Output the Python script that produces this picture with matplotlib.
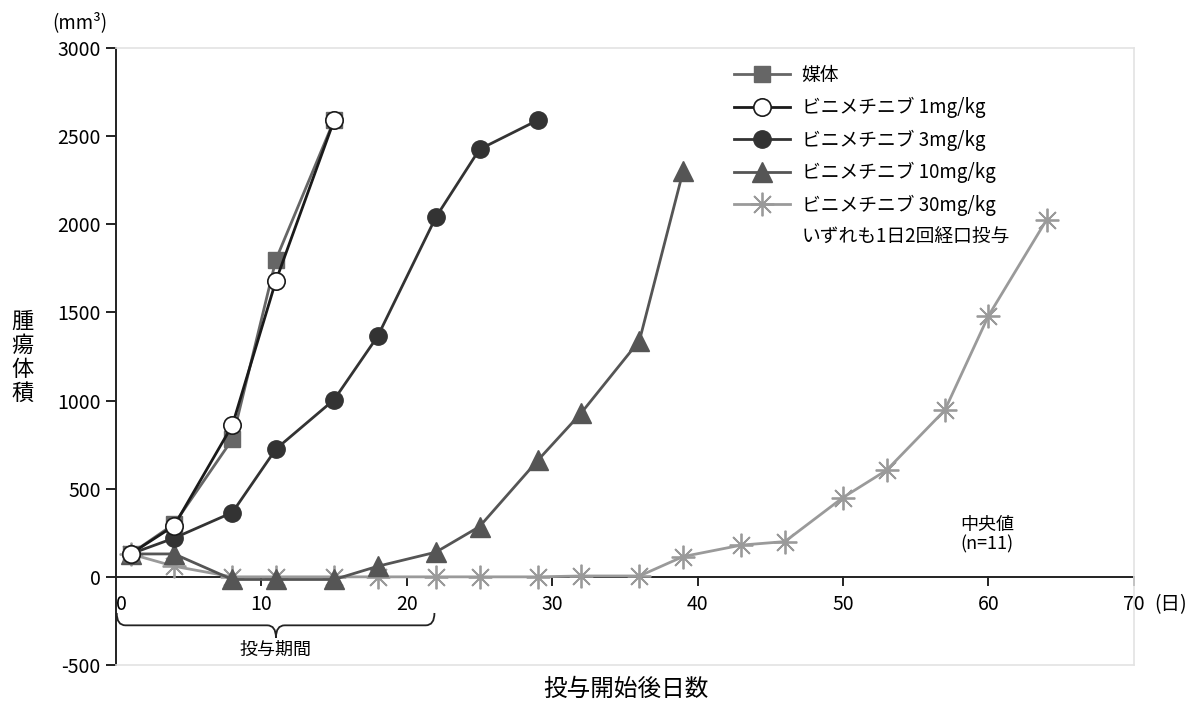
import matplotlib.pyplot as plt
from matplotlib.path import Path
from matplotlib.patches import PathPatch

plt.rcParams['font.family'] = ['Noto Sans CJK JP', 'DejaVu Sans']
plt.rcParams['axes.unicode_minus'] = False

# 投与開始後日数
days = [1, 4, 8, 11, 15, 18, 22, 25, 29, 32, 36, 39, 43, 46, 50, 53, 57, 60, 64]

# 腫瘍体積 (mm3), 中央値
vehicle = [130, 300, 780, 1800, 2590]
bini_1 = [130, 290, 860, 1680, 2590]
bini_3 = [130, 220, 365, 725, 1005, 1365, 2040, 2425, 2590]
bini_10 = [130, 130, -15, -15, -15, 60, 140, 285, 660, 930, 1340, 2300]
bini_30 = [130, 60, 0, 0, 0, 0, 0, 0, 0, 5, 5, 115, 180, 200, 450, 605, 945, 1480, 2025]

labels = ['媒体', 'ビニメチニブ 1mg/kg', 'ビニメチニブ 3mg/kg',
          'ビニメチニブ 10mg/kg', 'ビニメチニブ 30mg/kg']
note = 'いずれも1日2回経口投与'

fig = plt.figure(figsize=(11.96, 7.02), dpi=100)
ax = fig.add_axes([0.097, 0.0527, 0.851, 0.879])

h30, = ax.plot(days[:len(bini_30)], bini_30, color='#9a9a9a', lw=2, marker=(8, 2, 0),
               ms=17, mew=1.3, zorder=2)
h10, = ax.plot(days[:len(bini_10)], bini_10, color='#555555', lw=2, marker='^',
               ms=15, zorder=3)
h3, = ax.plot(days[:len(bini_3)], bini_3, color='#333333', lw=2, marker='o',
              ms=12.5, zorder=4)
hv, = ax.plot(days[:len(vehicle)], vehicle, color='#666666', lw=2, marker='s',
              ms=12, zorder=5)
h1, = ax.plot(days[:len(bini_1)], bini_1, color='#1a1a1a', lw=2, marker='o',
              ms=12.5, mfc='white', mec='#1a1a1a', mew=1.2, zorder=6)

ax.set_xlim(0, 70)
ax.set_ylim(-500, 3000)
ax.set_yticks([-500, 0, 500, 1000, 1500, 2000, 2500, 3000])
ax.set_xticks([])

for s in ['top', 'right', 'bottom']:
    ax.spines[s].set_color('#e3e3e3')
    ax.spines[s].set_linewidth(1.2)
ax.spines['left'].set_linewidth(1.4)
ax.spines['left'].set_color('#222222')
ax.tick_params(axis='y', labelsize=14, length=7, width=1.4, color='#222222', pad=4)

# x軸 (y=0)
ax.axhline(0, color='#222222', lw=1.4, zorder=1)
for t in [10, 20, 30, 40, 50, 60, 70]:
    ax.plot([t, t], [0, -45], color='#222222', lw=1.4, clip_on=False, zorder=1)
for t in [0, 10, 20, 30, 40, 50, 60, 70]:
    ax.text(t + (0.4 if t == 0 else 0), -100, str(t), ha='center', va='top', fontsize=14)
ax.text(72.5, -100, '(日)', ha='center', va='top', fontsize=14)

# 投与期間 brace
bx0, bx1, bxm = 0.05, 21.9, 11.0
yt, yb, ytip = -205, -275, -345
verts = [(bx0, yt), (bx0, yb), (bx0 + 0.6, yb),
         (bxm - 0.6, yb), (bxm, yb), (bxm, ytip),
         (bxm, yb), (bxm + 0.6, yb),
         (bx1 - 0.6, yb), (bx1, yb), (bx1, yt)]
codes = [Path.MOVETO, Path.CURVE3, Path.CURVE3,
         Path.LINETO, Path.CURVE3, Path.CURVE3,
         Path.CURVE3, Path.CURVE3,
         Path.LINETO, Path.CURVE3, Path.CURVE3]
ax.add_patch(PathPatch(Path(verts, codes), fill=False, lw=1.3, color='#222222',
                       clip_on=False))
ax.text(bxm, -365, '投与期間', ha='center', va='top', fontsize=13)

ax.text(59.9, 240, '中央値\n(n=11)', ha='center', va='center', fontsize=13,
        linespacing=1.05)

blank, = ax.plot([], [], color='none')
leg = ax.legend([hv, h1, h3, h10, h30, blank], labels + [note],
                loc='upper left', bbox_to_anchor=(0.6, 0.985), frameon=False,
                fontsize=13.5, handlelength=3.0, handletextpad=0.6,
                labelspacing=0.6, borderaxespad=0)

fig.text(0.044, 0.968, '(mm³)', ha='left', va='center', fontsize=13.5)
fig.text(0.019, 0.491, '腫\n瘍\n体\n積', ha='center', va='center', fontsize=16,
         linespacing=1.05)
fig.text(0.523, 0.018, '投与開始後日数', ha='center', va='center', fontsize=17)

fig.savefig('out.png', dpi=100)
